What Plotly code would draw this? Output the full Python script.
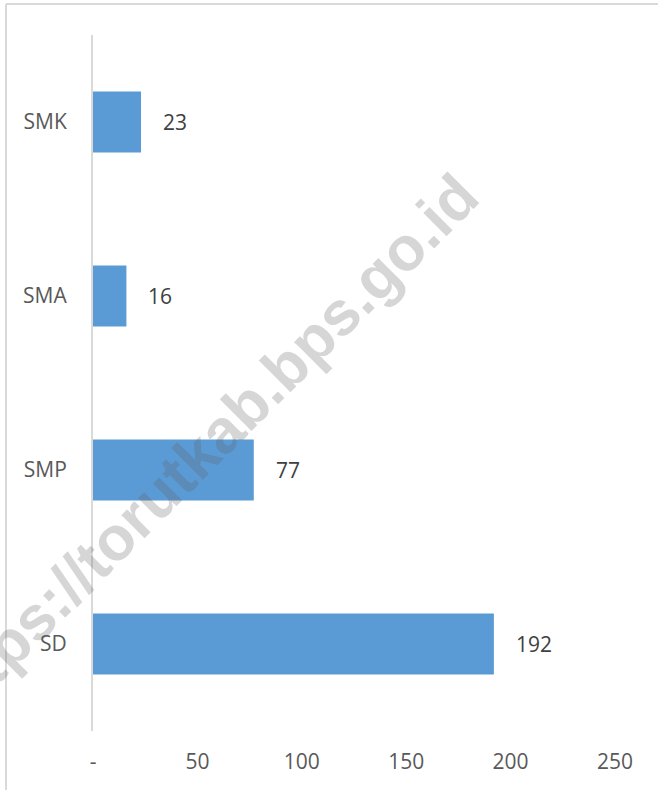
import plotly.graph_objects as go

categories = ["SD", "SMP", "SMA", "SMK"]
values = [192, 77, 16, 23]
tick_vals = [0, 50, 100, 150, 200, 250]
tick_text = ["-", "50", "100", "150", "200", "250"]
watermark = "https://torutkab.bps.go.id"

FONT = "Open Sans, Noto Sans, sans-serif"

fig = go.Figure()
fig.add_trace(go.Bar(
    x=values, y=categories, orientation="h",
    marker=dict(color="#5b9bd5", line=dict(width=0)),
    hoverinfo="skip",
))

annotations = []
for c, v in zip(categories, values):
    annotations.append(dict(
        x=v, y=c, xref="x", yref="y", text=str(v), showarrow=False,
        xanchor="left", yanchor="middle", xshift=20,
        font=dict(family=FONT, size=21, color="#404040"),
    ))

annotations.append(dict(
    x=0.21, y=0.405, xref="paper", yref="paper", text="<b>" + watermark + "</b>",
    showarrow=False, textangle=-45, xanchor="center", yanchor="middle",
    font=dict(family="Liberation Sans, Arial, sans-serif", size=62,
              color="rgba(90,90,90,0.25)"),
))

fig.update_layout(
    width=658, height=790,
    margin=dict(l=93, r=43, t=35, b=59),
    paper_bgcolor="white", plot_bgcolor="white",
    bargap=0.65,
    showlegend=False,
    annotations=annotations,
    shapes=[
        dict(type="line", xref="paper", yref="paper",
             x0=-0.1667, x1=-0.1667, y0=1.0445, y1=-0.2,
             line=dict(color="#d9d9d9", width=2)),
        dict(type="line", xref="paper", yref="paper",
             x0=-0.1667, x1=1.2, y0=1.0445, y1=1.0445,
             line=dict(color="#d9d9d9", width=2)),
    ],
    xaxis=dict(
        range=[0, 250], tickvals=tick_vals, ticktext=tick_text,
        showgrid=False, zeroline=False, showline=False, ticks="",
        ticklabelstandoff=16,
        tickfont=dict(family=FONT, size=21, color="#595959"),
        fixedrange=True,
    ),
    yaxis=dict(
        categoryorder="array", categoryarray=categories,
        showgrid=False, zeroline=False, showline=True,
        linecolor="#d9d9d9", linewidth=2, ticks="",
        ticklabelstandoff=20,
        tickfont=dict(family=FONT, size=21, color="#595959"),
        fixedrange=True,
    ),
)

fig.write_html(
    "out.html",
    config={"displayModeBar": False, "staticPlot": True},
    post_script="document.body.style.margin='0px';document.body.style.overflow='hidden';",
)
